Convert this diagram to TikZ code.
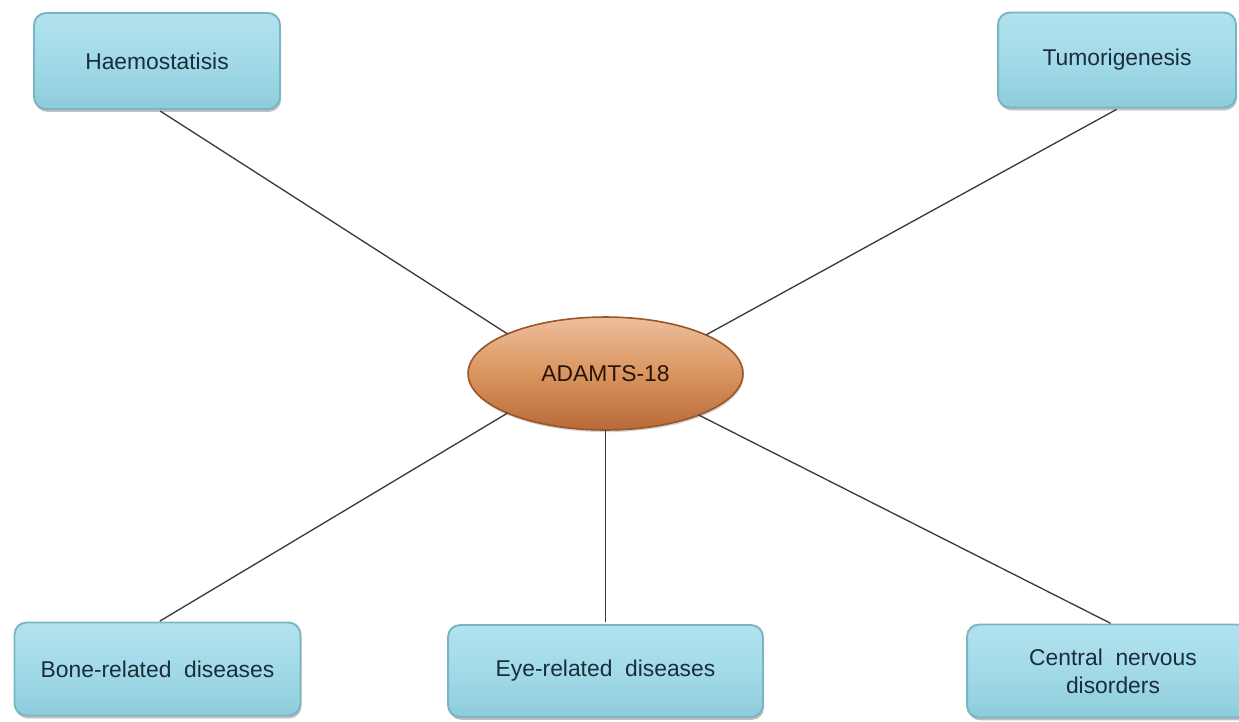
\documentclass[tikz,border=0pt]{standalone}
\usepackage{fontspec}
\setmainfont{Liberation Sans}
\usetikzlibrary{shapes.geometric,shadows}
\definecolor{boxtop}{HTML}{B2E2EE}
\definecolor{boxmid}{HTML}{A2DAE8}
\definecolor{boxbot}{HTML}{8ECCDB}
\definecolor{boxedge}{HTML}{7AB5C6}
\definecolor{txt}{HTML}{1B2C3A}
\definecolor{linec}{HTML}{3A3A3A}
\definecolor{elltop}{HTML}{EDBE9C}
\definecolor{ellmid}{HTML}{D9955F}
\definecolor{ellbot}{HTML}{B86A38}
\definecolor{elledge}{HTML}{9A5428}
\definecolor{elltxt}{HTML}{2A1408}
\tikzset{
  topic/.style={rectangle, rounded corners=0.24cm, draw=boxedge, line width=1.1pt,
    top color=boxtop, bottom color=boxbot, middle color=boxmid,
    drop shadow={shadow xshift=0.6pt, shadow yshift=-1.6pt, fill=black!55, opacity=0.45},
    text=txt, align=center, inner sep=2pt, outer sep=0pt,
    font=\fontsize{13}{16}\selectfont},
  hub/.style={ellipse, draw=elledge, line width=0.9pt,
    top color=elltop, bottom color=ellbot, middle color=ellmid,
    drop shadow={shadow xshift=0.5pt, shadow yshift=-1.2pt, fill=black!50, opacity=0.35},
    text=elltxt, inner sep=0pt, outer sep=0pt,
    minimum width=5.5cm, minimum height=2.26cm,
    font=\fontsize{13}{16}\selectfont},
  conn/.style={draw=linec, line width=0.75pt}
}
\begin{document}
\begin{tikzpicture}[x=0.02cm,y=-0.02cm]
\path[use as bounding box] (0,0) rectangle (1239,721);
\clip (0,0) rectangle (1239,721);
\fill[white] (0,0) rectangle (1239,721);

\node[hub] (e) at (605.5,373.5) {ADAMTS-18};

\node[topic, minimum width=4.92cm, minimum height=1.92cm] (hb) at (157,61) {Haemostatisis};
\node[topic, minimum width=4.76cm, minimum height=1.9cm] (tg) at (1117,60) {Tumorigenesis};
\node[topic, minimum width=5.72cm, minimum height=1.86cm] (bd) at (157.5,669) {Bone-related\ \ diseases};
\node[topic, minimum width=6.3cm, minimum height=1.84cm] (ed) at (605.5,671) {Eye-related\ \ diseases};
\node[topic, minimum width=5.84cm, minimum height=1.86cm] (cn) at (1113,671) {Central\ \ nervous\\disorders};

\draw[conn, shorten <=2.2pt] (hb.south) -- (e.158);
\draw[conn, shorten <=2.2pt] ([xshift=0.06cm]tg.south) -- (e.21);
\draw[conn, shorten >=1.5pt] (e.202) -- (bd.north);
\draw[conn, shorten >=1.5pt] (e.south) -- (ed.north);
\draw[conn, shorten >=1.5pt] (e.-24) -- (cn.north);
\end{tikzpicture}
\end{document}
